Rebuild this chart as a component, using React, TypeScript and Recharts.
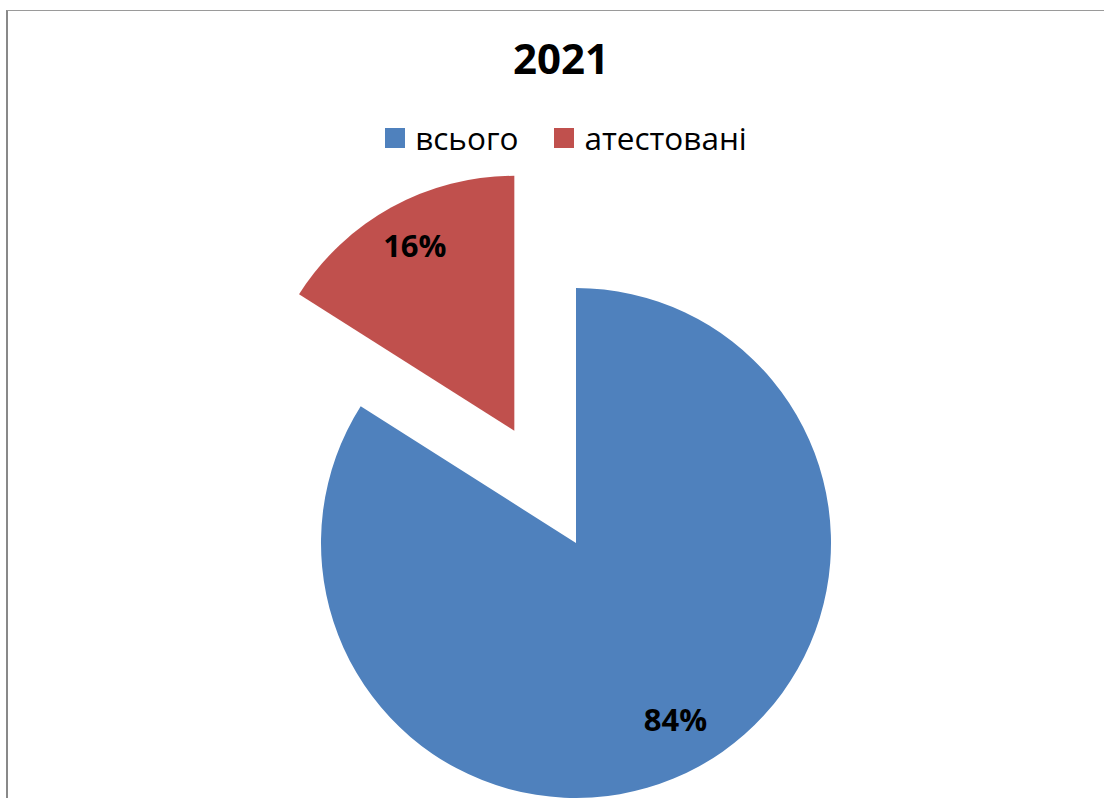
import { Cell, Legend, Pie, PieChart, Sector } from "recharts";

const CATEGORIES = ["всього", "атестовані"];
const VALUES = [84, 16];
const COLORS = ["#4F81BD", "#C0504D"];
const EXPLODED = ["атестовані"];

const data = CATEGORIES.map((name, i) => ({ name, value: VALUES[i] }));

const RADIAN = Math.PI / 180;
const EXPLODE = 128;
const FONT = '"Open Sans", "Noto Sans", sans-serif';

function shift(name: string, midAngle: number) {
  if (!EXPLODED.includes(name)) return { dx: 0, dy: 0 };
  return {
    dx: EXPLODE * Math.cos(-midAngle * RADIAN),
    dy: EXPLODE * Math.sin(-midAngle * RADIAN),
  };
}

function ExplodedSector(props: any) {
  const { dx, dy } = shift(props.name ?? props.payload?.name, props.midAngle);
  return <Sector {...props} cx={props.cx + dx} cy={props.cy + dy} stroke="none" />;
}

function SliceLabel(props: any) {
  const { cx, cy, midAngle, outerRadius, percent, name } = props;
  const { dx, dy } = shift(name, midAngle);
  const r = outerRadius * 0.81;
  const x = cx + dx + r * Math.cos(-midAngle * RADIAN);
  const y = cy + dy + r * Math.sin(-midAngle * RADIAN);
  return (
    <text
      x={x}
      y={y}
      dy={-5}
      textAnchor="middle"
      dominantBaseline="central"
      fill="#000"
      fontFamily={FONT}
      fontWeight={700}
      fontSize={31}
    >
      {`${Math.round(percent * 100)}%`}
    </text>
  );
}

function LegendContent({ payload }: any) {
  const items = [...(payload ?? [])].sort(
    (a: any, b: any) => CATEGORIES.indexOf(a.value) - CATEGORIES.indexOf(b.value)
  );
  return (
    <div
      style={{
        display: "flex",
        justifyContent: "center",
        alignItems: "center",
        transform: "translateX(14px)",
        fontFamily: FONT,
        fontSize: 31.5,
        lineHeight: "40px",
        color: "#000",
      }}
    >
      {items.map((item: any, i: number) => (
        <div
          key={item.value}
          style={{ display: "flex", alignItems: "center", marginRight: i < items.length - 1 ? 36 : 0 }}
        >
          <span
            style={{
              width: 20,
              height: 20,
              background: item.color ?? COLORS[i],
              marginRight: 10,
              display: "inline-block",
            }}
          />
          <span>{item.value}</span>
        </div>
      ))}
    </div>
  );
}

export default function App() {
  return (
    <div style={{ position: "relative", width: 1104, height: 798, overflow: "hidden", background: "#fff" }}>
      <style>{`body{margin:0}`}</style>
      <div
        style={{
          position: "absolute",
          left: 6,
          top: 10,
          width: 1100,
          height: 790,
          borderLeft: "2px solid #898989",
          borderTop: "1px solid #9a9a9a",
        }}
      />
      <div
        style={{
          position: "absolute",
          left: 0,
          width: 1122,
          top: 30,
          textAlign: "center",
          fontFamily: FONT,
          fontWeight: 700,
          fontSize: 42,
          lineHeight: "56px",
          color: "#000",
        }}
      >
        2021
      </div>
      <div style={{ position: "absolute", left: 0, top: 0 }}>
        <PieChart width={1104} height={798} margin={{ top: 0, right: 0, bottom: 0, left: 0 }}>
          <Pie
            data={data}
            dataKey="value"
            nameKey="name"
            cx={576}
            cy={543}
            outerRadius={255}
            startAngle={90}
            endAngle={-270}
            stroke="none"
            shape={ExplodedSector}
            label={SliceLabel}
            labelLine={false}
            isAnimationActive={false}
          >
            {data.map((d, i) => (
              <Cell key={d.name} fill={COLORS[i]} />
            ))}
          </Pie>
          <Legend
            layout="horizontal"
            verticalAlign="middle"
            itemSorter={null as any}
            content={<LegendContent />}
            wrapperStyle={{ top: 118, left: 0, width: 1104 }}
          />
        </PieChart>
      </div>
    </div>
  );
}
